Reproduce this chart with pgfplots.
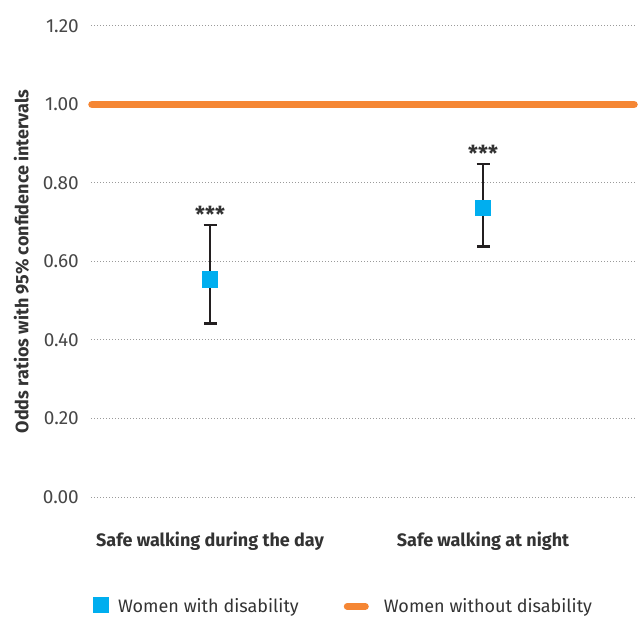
\documentclass[border=0pt]{standalone}
\usepackage{fontspec}
\setmainfont{Fira Sans}
\usepackage{pgfplots}
\pgfplotsset{compat=1.18}
\definecolor{cblue}{HTML}{00AEEF}
\definecolor{corange}{HTML}{F58634}
\definecolor{ctext}{HTML}{333333}
\definecolor{cgrid}{HTML}{9A9A9A}
\definecolor{cbar}{HTML}{231F20}
\begin{document}
\begin{tikzpicture}
\path[use as bounding box] (0,0) rectangle (641bp,619bp);
\begin{axis}[
  at={(91bp,122bp)}, anchor=south west,
  scale only axis, width=544bp, height=471bp,
  xmin=91, xmax=635, ymin=0, ymax=1.2,
  clip=false,
  axis line style={draw=none},
  major tick length=0pt,
  ytick={0,0.2,0.4,0.6,0.8,1.0,1.2},
  yticklabel style={/pgf/number format/.cd, fixed, fixed zerofill, precision=2, assume math mode=true, /tikz/.cd,
    font=\fontsize{19bp}{21bp}\selectfont, text=ctext!90, inner sep=0pt, anchor=east, xshift=-12bp},
  ymajorgrids,
  grid style={cgrid, line width=1bp, dash pattern=on 1bp off 2bp},
  xtick={210,483},
  xticklabels={Safe walking during the day, Safe walking at night},
  xticklabel style={font=\fontsize{18bp}{20bp}\selectfont\bfseries, text=ctext, inner sep=0pt, anchor=center, yshift=-44bp},
  ylabel={Odds ratios with 95\% confidence intervals},
  ylabel style={at={(axis description cs:-0.128,0.5)}, anchor=center, font=\fontsize{18bp}{20bp}\selectfont\bfseries, text=ctext, inner sep=0pt},
  legend columns=2,
  legend cell align=left,
  legend style={at={(axis description cs:0.00368,-0.2303)}, anchor=west, draw=none, fill=none,
    inner sep=0pt, outer sep=0pt, font=\fontsize{18bp}{20bp}\selectfont, text=ctext,
    nodes={inner sep=0pt},
    /tikz/every odd column/.append style={column sep=9bp},
    /tikz/every even column/.append style={column sep=45bp}},
]
\addplot[corange, line width=7.5bp, line cap=round, forget plot] coordinates {(92,1) (634,1)};
\addplot[only marks, mark=square*, mark size=7.8bp, mark options={fill=cblue, draw=cblue, line width=0pt}, forget plot,
  error bars/.cd, y dir=both, y explicit,
  error bar style={line width=2.5bp, cbar},
  error mark options={rotate=90, mark size=6.5bp, line width=2.5bp, cbar}]
  coordinates {
    (210,0.554) += (0,0.139) -= (0,0.1115)
    (483,0.736) += (0,0.112) -= (0,0.098)
  };
\node[anchor=base, font=\fontsize{22bp}{24bp}\selectfont\bfseries, text=ctext, inner sep=0pt, yshift=2bp] at (axis cs:210,0.693) {***};
\node[anchor=base, font=\fontsize{22bp}{24bp}\selectfont\bfseries, text=ctext, inner sep=0pt, yshift=3bp] at (axis cs:483,0.848) {***};
\addlegendimage{legend image code/.code={\fill[cblue, draw=none] (0bp,-7.2bp) rectangle (16bp,8.8bp);}}
\addlegendentry{Women with disability}
\addlegendimage{legend image code/.code={\path[draw=none, fill=none] (0bp,0bp) rectangle (31bp,1bp); \draw[corange, line width=7bp, line cap=round] (3.5bp,-0.5bp) -- (21.5bp,-0.5bp);}}
\addlegendentry{Women without disability}
\end{axis}
\end{tikzpicture}
\end{document}
